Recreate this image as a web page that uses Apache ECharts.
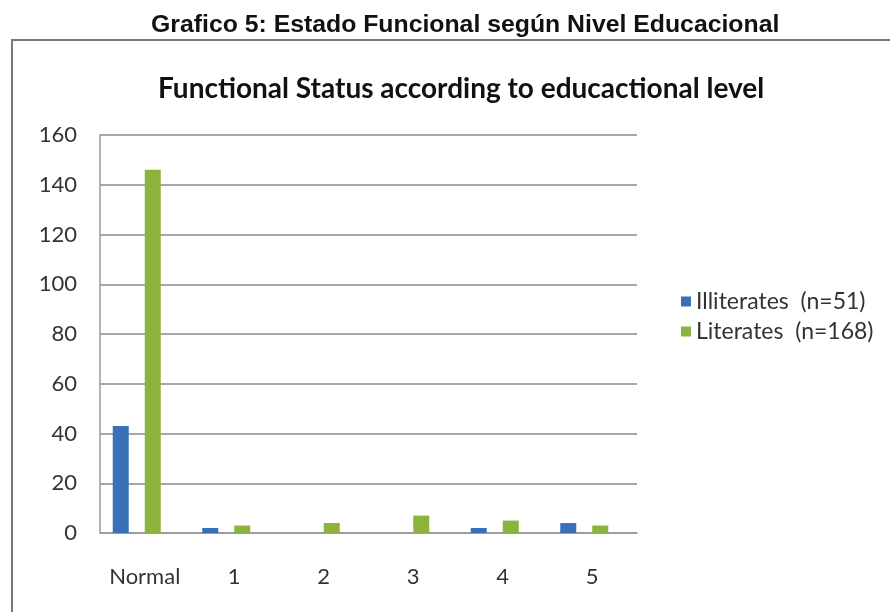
<!DOCTYPE html>
<html>
<head>
<meta charset="utf-8">
<script src="https://cdn.jsdelivr.net/npm/echarts@6/dist/echarts.min.js"></script>
<style>html,body{margin:0;padding:0;background:#fff;}#c{width:890px;height:612px;}</style>
</head>
<body>
<div id="c"></div>
<script>
const categories = ['Normal', '1', '2', '3', '4', '5'];
const illiterates = [43, 2, 0, 0, 2, 4];
const literates = [146, 3, 4, 7, 5, 3];
const emptySlot = [null, null, null, null, null, null];
const seriesNames = ['Illiterates  (n=51)', 'Literates  (n=168)'];
const outerTitle = 'Grafico 5: Estado Funcional según Nivel Educacional';
const innerTitle = 'Functional Status according to educactional level';

const chart = echarts.init(document.getElementById('c'), null, {renderer: 'canvas'});
const labelFont = {fontFamily: 'Lato', fontSize: 22, color: '#333'};
chart.setOption({
  animation: false,
  backgroundColor: '#fff',
  title: [
    {text: outerTitle, left: 146, top: 8,
     textStyle: {fontFamily: 'Liberation Sans', fontWeight: 'bold', fontSize: 24.8, color: '#111'}},
    {text: innerTitle, left: 153, top: 70,
     textStyle: {fontFamily: 'Lato', fontWeight: 'bold', fontSize: 28, color: '#111'}}
  ],
  graphic: [{
    type: 'rect', shape: {x: 12, y: 40, width: 900, height: 620},
    style: {fill: 'none', stroke: '#777', lineWidth: 2}, z: -1
  }],
  legend: {
    data: seriesNames,
    orient: 'vertical', left: 676, top: 285, itemWidth: 10, itemHeight: 10, itemGap: 7,
    icon: 'rect',
    textStyle: {fontFamily: 'Lato', fontSize: 23, color: '#333'}
  },
  grid: {left: 100, right: 253, top: 135, bottom: 79, containLabel: false},
  xAxis: {
    type: 'category', data: categories,
    axisLine: {lineStyle: {color: '#999', width: 1.5}},
    axisTick: {show: false},
    axisLabel: Object.assign({margin: 33, interval: 0}, labelFont)
  },
  yAxis: {
    type: 'value', min: 0, max: 160, interval: 20,
    axisLine: {show: true, lineStyle: {color: '#999', width: 1.5}},
    axisTick: {show: false},
    splitLine: {lineStyle: {color: '#8a8a8a', width: 1.5}},
    axisLabel: Object.assign({margin: 23}, labelFont)
  },
  series: [
    {name: seriesNames[0], type: 'bar', data: illiterates, barGap: '0%', barCategoryGap: '28.5%',
     itemStyle: {color: '#3a70b8'}},
    {name: 'gap1', type: 'bar', data: emptySlot, itemStyle: {color: 'transparent'}},
    {name: seriesNames[1], type: 'bar', data: literates, itemStyle: {color: '#8cb33c'}},
    {name: 'gap2', type: 'bar', data: emptySlot, itemStyle: {color: 'transparent'}}
  ]
});
</script>
</body>
</html>
